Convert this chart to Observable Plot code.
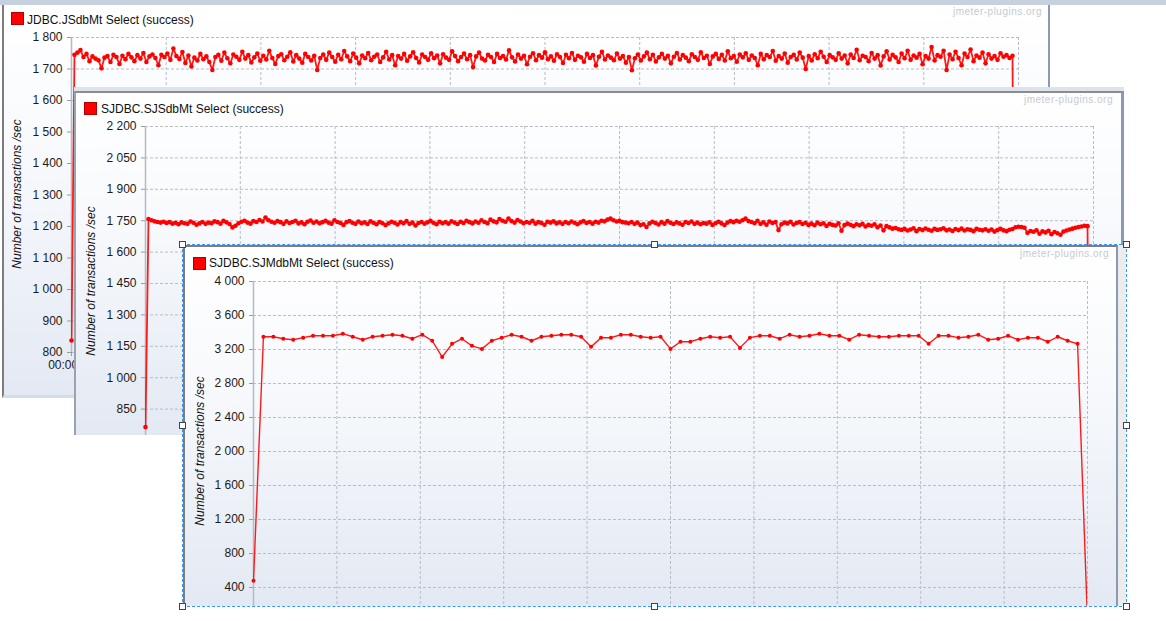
<!DOCTYPE html>
<html><head><meta charset="utf-8">
<script src="https://cdn.jsdelivr.net/npm/d3@7"></script>
<script src="https://cdn.jsdelivr.net/npm/@observablehq/plot@0.6"></script>
<style>
html,body{margin:0;padding:0;background:#fff;}
body{width:1166px;height:621px;position:relative;overflow:hidden;font-family:"Liberation Sans",Arial,sans-serif;}
.abs{position:absolute;}
.panel{position:absolute;overflow:hidden;background:linear-gradient(180deg,#ffffff 0%,#f7f9fc 40%,#e3e9f3 100%);}
.panel svg{position:absolute;left:0;top:0;}
.frame{position:absolute;left:0;top:0;right:0;bottom:0;box-sizing:border-box;pointer-events:none;}
.title{position:absolute;font-size:12px;color:#111;white-space:nowrap;line-height:14px;}
.swatch{position:absolute;width:13px;height:13px;background:#ff0000;border:1px solid #b00000;box-sizing:border-box;}
.wm{position:absolute;font-size:10px;color:#c5cad3;letter-spacing:0.5px;white-space:nowrap;line-height:12px;}
.ylab{position:absolute;font-size:12px;font-style:italic;color:#111;white-space:nowrap;transform:translate(-50%,-50%) rotate(-90deg);line-height:14px;}
.handle{position:absolute;width:7px;height:7px;box-sizing:border-box;border:1px solid #444;background:#fff;z-index:20;}
</style>
</head><body>
<script>
// ---------- DATA ----------
const seriesNames = ["JDBC.JSdbMt Select (success)", "SJDBC.SJSdbMt Select (success)", "SJDBC.SJMdbMt Select (success)"];
const yAxisTitle = "Number of transactions /sec";
const watermark = "jmeter-plugins.org";

// Panel 1: transactions/sec per sample (first ramp-up sample, steady state, final drop)
const p1Values = [838,
1745,1752,1760,1738,1748,1725,1740,1733,1728,1702,1736,1741,1722,1745,1738,1716,1742,1731,1748,1737,
1725,1744,1733,1751,1722,1740,1746,1735,1712,1745,1738,1749,1729,1765,1741,1732,1754,1719,1743,1708,
1736,1727,1748,1731,1740,1722,1697,1738,1745,1726,1752,1734,1718,1746,1739,1729,1755,1733,1744,1721,
1737,1749,1726,1742,1730,1758,1735,1716,1741,1747,1728,1739,1753,1724,1744,1733,1720,1748,1738,1727,
1742,1697,1735,1746,1729,1752,1738,1723,1745,1731,1757,1740,1725,1749,1736,1718,1743,1734,1751,1728,
1739,1746,1722,1737,1755,1730,1744,1712,1741,1733,1748,1726,1740,1753,1735,1721,1746,1738,1729,1750,
1734,1743,1718,1747,1736,1729,1756,1741,1725,1738,1749,1731,1744,1706,1740,1752,1733,1727,1745,1738,
1722,1748,1735,1741,1730,1759,1737,1724,1746,1733,1742,1715,1739,1750,1728,1744,1736,1753,1731,1740,
1726,1747,1738,1719,1745,1734,1751,1729,1742,1737,1723,1748,1735,1744,1711,1739,1755,1730,1743,1736,
1728,1749,1733,1741,1720,1738,1696,1734,1746,1727,1740,1752,1731,1745,1724,1737,1748,1733,1742,1718,
1739,1751,1730,1744,1736,1725,1747,1738,1729,1753,1735,1742,1716,1740,1748,1732,1745,1727,1756,1734,
1741,1723,1746,1737,1750,1729,1743,1735,1712,1748,1731,1744,1738,1757,1726,1741,1733,1749,1720,1738,
1745,1730,1752,1736,1700,1741,1727,1747,1734,1755,1739,1722,1744,1737,1729,1750,1733,1743,1718,1746,
1735,1761,1728,1742,1738,1725,1751,1733,1744,1711,1740,1756,1730,1745,1737,1722,1749,1734,1758,1729,
1743,1736,1748,1715,1741,1733,1770,1727,1744,1739,1758,1697,1746,1731,1755,1735,1712,1749,1738,1762,
1725,1743,1736,1752,1718,1747,1733,1741,1729,1750,1739,1744,1735,1742,
0];

// Panel 2
const p2Values = [764,
1758,1752,1747,1744,1741,1745,1739,1743,1736,1740,1733,1742,1738,1735,1746,1740,1731,1737,1744,1735,
1741,1738,1747,1743,1736,1749,1742,1734,1718,1726,1738,1745,1750,1741,1736,1748,1744,1753,1746,1765,
1752,1745,1740,1748,1743,1735,1747,1739,1744,1750,1737,1742,1733,1745,1751,1740,1746,1738,1743,1749,
1741,1736,1752,1744,1739,1730,1743,1748,1740,1735,1746,1738,1742,1734,1747,1740,1733,1744,1738,1729,
1737,1745,1740,1732,1743,1738,1748,1735,1741,1727,1739,1744,1736,1742,1749,1740,1733,1745,1738,1743,
1736,1747,1741,1734,1745,1739,1750,1743,1737,1746,1740,1752,1744,1738,1755,1747,1742,1758,1750,1745,
1760,1748,1741,1753,1746,1738,1744,1740,1749,1736,1743,1739,1731,1745,1741,1747,1737,1742,1735,1744,
1738,1746,1740,1733,1742,1748,1739,1744,1736,1745,1741,1750,1747,1755,1760,1752,1746,1749,1743,1741,
1738,1744,1735,1741,1729,1733,1720,1737,1745,1739,1732,1743,1736,1748,1740,1734,1742,1737,1731,1744,
1739,1746,1735,1741,1733,1739,1736,1742,1730,1738,1745,1737,1729,1741,1748,1743,1750,1745,1752,1760,
1748,1744,1738,1750,1735,1742,1731,1746,1739,1744,1705,1733,1741,1737,1745,1732,1739,1743,1734,1740,
1730,1736,1728,1741,1733,1738,1725,1735,1730,1727,1738,1702,1729,1736,1731,1724,1733,1728,1735,1722,
1730,1726,1733,1719,1727,1704,1724,1718,1712,1715,1709,1706,1711,1703,1708,1714,1700,1710,1705,1713,
1707,1702,1711,1706,1709,1714,1704,1708,1701,1710,1705,1712,1703,1709,1706,1700,1711,1707,1704,1709,
1702,1708,1698,1705,1711,1704,1700,1707,1710,1719,1721,1720,1716,1692,1701,1697,1704,1688,1699,1694,
1702,1685,1696,1690,1683,1698,1703,1708,1712,1716,1720,1722,1726,1724,
0];

// Panel 3
const p3Values = [480,
3350,3350,3327,3315,3339,3362,3362,3362,3386,3350,3315,3350,3362,3374,3362,3327,3374,3303,3112,3267,
3327,3243,3207,3303,3339,3374,3350,3303,3350,3362,3374,3374,3350,3231,3339,3339,3374,3374,3350,3339,
3350,3207,3291,3291,3327,3350,3339,3350,3219,3339,3362,3362,3327,3374,3350,3362,3386,3362,3362,3315,
3374,3362,3350,3350,3362,3362,3362,3267,3362,3362,3339,3350,3374,3315,3327,3362,3315,3339,3339,3291,
3350,3303,3267,
0];

const p1YTicks = [800, 900, 1000, 1100, 1200, 1300, 1400, 1500, 1600, 1700, 1800];
const p2YTicks = [850, 1000, 1150, 1300, 1450, 1600, 1750, 1900, 2050, 2200];
const p3YTicks = [400, 800, 1200, 1600, 2000, 2400, 2800, 3200, 3600, 4000];
const p1XLabels = ["00:00:00","00:01:00","00:02:00","00:03:00","00:04:00","00:05:00","00:06:00","00:07:00","00:08:00","00:09:00","00:10:00"];

// ---------- RENDER ----------
const fmt = d3.formatLocale({decimal: ".", thousands: " ", grouping: [3], currency: ["", ""]}).format(",d");
const RED = "#ff0000";
const GRID = {stroke: "#b8bdc6", strokeOpacity: 1, strokeDasharray: "3,2", strokeWidth: 1};

function el(cls, parent, css, text) {
  const d = document.createElement("div");
  d.className = cls;
  Object.assign(d.style, css);
  if (text != null) d.textContent = text;
  parent.appendChild(d);
  return d;
}

function panel(cfg) {
  const w = el("panel", document.body, {left: cfg.left + "px", top: cfg.top + "px", width: cfg.w + "px", height: cfg.h + "px", zIndex: cfg.z});
  const data = cfg.values.map((v, i) => ({i, v}));
  const inDomain = data.filter(d => d.v >= cfg.yDomain[0] && d.v <= cfg.yDomain[1]);
  const xTicks = d3.range(0, 11).map(k => k * cfg.xMax / 10);
  const marks = [
    Plot.gridY(cfg.yTicks, GRID),
    Plot.gridX(xTicks, GRID),
    Plot.ruleX([0], {stroke: "#b3bac6", strokeWidth: 1.5}),
    Plot.axisY(cfg.yTicks, {tickSize: 4, tickPadding: 5, tickFormat: fmt, stroke: "#9a9a9a", fontSize: 12, label: null}),
    Plot.line(data, {x: "i", y: "v", stroke: "#ff1a1a", strokeWidth: cfg.lw, clip: true}),
    Plot.dot(inDomain, {x: "i", y: "v", r: cfg.r, fill: RED, stroke: "none"})
  ];
  if (cfg.xLabels) {
    marks.push(Plot.axisX(xTicks, {tickSize: 4, tickPadding: 4, fontSize: 12, stroke: "#9a9a9a", label: null,
      tickFormat: d => cfg.xLabels[Math.round(d / (cfg.xMax / 10))]}));
  }
  const svg = Plot.plot({
    width: cfg.w, height: cfg.svgH,
    marginLeft: cfg.ml, marginRight: cfg.mr, marginTop: cfg.mt, marginBottom: cfg.mb,
    x: {domain: [0, cfg.xMax], axis: null, label: null},
    y: {domain: cfg.yDomain, axis: null, label: null},
    style: {background: "transparent", fontFamily: "'Liberation Sans', Arial, sans-serif", fontSize: "12px", color: "#1a1a1a", overflow: "hidden"},
    marks
  });
  w.appendChild(svg);
  el("swatch", w, {left: cfg.sw[0] + "px", top: cfg.sw[1] + "px"});
  el("title", w, {left: cfg.tt[0] + "px", top: cfg.tt[1] + "px"}, cfg.name);
  el("wm", w, {right: cfg.wm[0] + "px", top: cfg.wm[1] + "px"}, watermark);
  el("ylab", w, {left: cfg.yl[0] + "px", top: cfg.yl[1] + "px"}, yAxisTitle);
  el("frame", w, cfg.frame);
  return w;
}

// top strip
el("abs", document.body, {left: "0px", top: "0px", width: "1166px", height: "5px", background: "#c7d0de"});

panel({name: seriesNames[0], values: p1Values, yTicks: p1YTicks, yDomain: [800, 1800], xMax: 316, xLabels: p1XLabels,
  left: 2, top: 5, w: 1048, h: 393, z: 1, svgH: 393, ml: 69, mr: 32, mt: 32, mb: 46, r: 2.3, lw: 1.8,
  sw: [9, 7], tt: [25, 8], wm: [8, 1], yl: [15, 189],
  frame: {borderLeft: "2px solid #7d7d7d", borderRight: "2px solid #8a9ab3", borderBottom: "3px solid #d2dcea"}});

el("abs", document.body, {left: "74px", top: "87px", width: "1050px", height: "4px", background: "#dce3ed", zIndex: 2});
panel({name: seriesNames[1], values: p2Values, yTicks: p2YTicks, yDomain: [700, 2200], xMax: 316,
  left: 74, top: 91, w: 1050, h: 344, z: 2, svgH: 370, ml: 71, mr: 31, mt: 35, mb: 21, r: 2.3, lw: 1.8,
  sw: [10, 11], tt: [27, 11], wm: [11, 3], yl: [17, 190],
  frame: {borderTop: "2px solid #8c8c8c", borderLeft: "2px solid #9aa3b0", borderRight: "3px solid #8a9ab3"}});

el("abs", document.body, {left: "1118px", top: "245px", width: "8px", height: "361px", background: "#ececec", zIndex: 3});
panel({name: seriesNames[2], values: p3Values, yTicks: p3YTicks, yDomain: [0, 4000], xMax: 84,
  left: 183, top: 245, w: 935, h: 361, z: 3, svgH: 396, ml: 70, mr: 31, mt: 36, mb: 20, r: 2, lw: 1.4,
  sw: [10, 12], tt: [26, 11], wm: [9, 3], yl: [17, 206],
  frame: {borderTop: "2px solid #7d7d7d", borderLeft: "2px solid #7d7d7d", borderRight: "2px solid #8a9ab3"}});

// selection rectangle with handles
el("abs", document.body, {left: "182px", top: "244px", width: "945px", height: "363px", border: "1px dashed #3399ff", boxSizing: "border-box", zIndex: 10});
const hx = [182, 654, 1126], hy = [244, 425, 606];
hx.forEach(x => hy.forEach(y => {
  if (x === 654 && y === 425) return;
  el("handle", document.body, {left: (x - 3) + "px", top: (y - 3) + "px"});
}));
</script>
</body></html>
